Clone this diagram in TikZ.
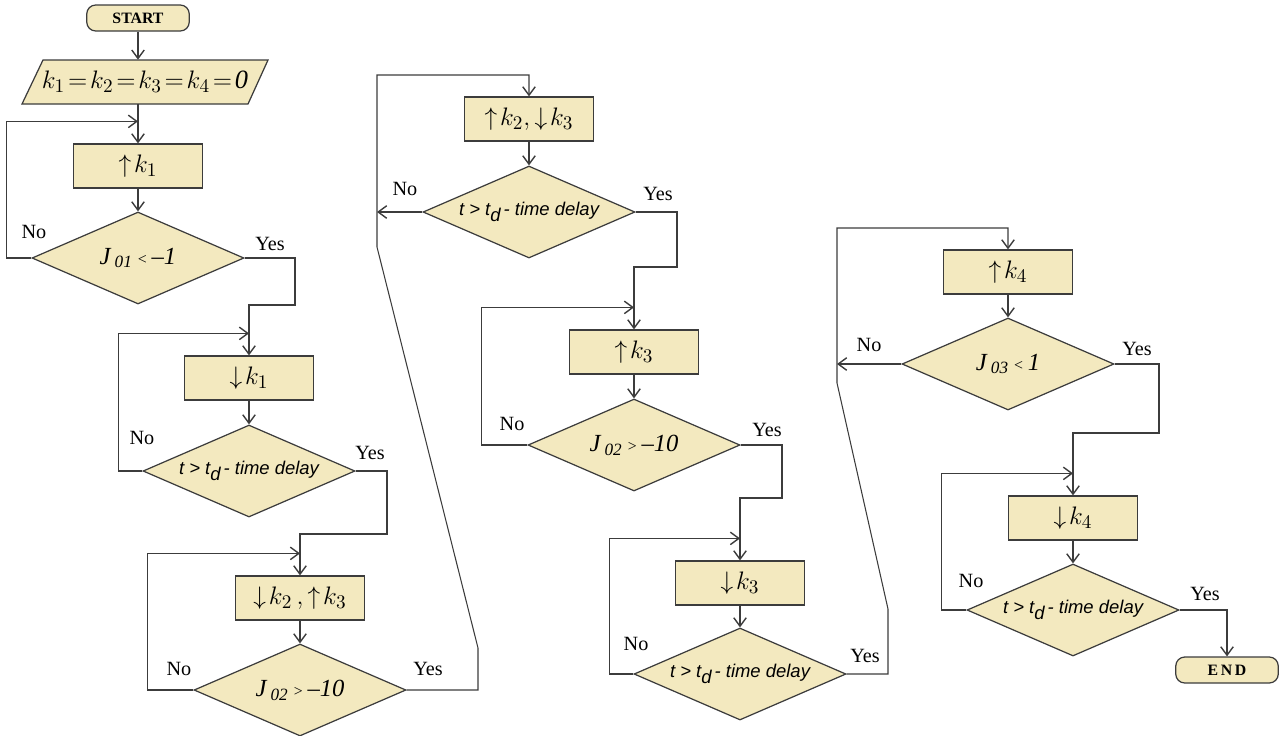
\documentclass[tikz,border=0pt]{standalone}
\usepackage{fontspec}
\setmainfont{Liberation Serif}
\newfontfamily\arialfont{Liberation Sans}
\usetikzlibrary{shapes.geometric,arrows.meta,calc}
\definecolor{boxfill}{RGB}{243,233,191}
\definecolor{linegray}{RGB}{60,60,60}
\newcommand{\tdelay}{{\arialfont\itshape\fontsize{10.5}{12}\selectfont t > t\raisebox{-0.55ex}{\fontsize{10.5}{12}\selectfont d}\,- time delay}}

\begin{document}
\begin{tikzpicture}[x=0.2mm,y=-0.2mm,
  procbox/.style={draw=linegray,fill=boxfill,line width=0.7pt,minimum width=25.8mm,minimum height=8.8mm,inner sep=0pt,font=\fontsize{15}{18}\selectfont},
  cond/.style={diamond,draw=linegray,fill=boxfill,line width=0.7pt,aspect=2.3,minimum width=42.4mm,minimum height=18.4mm,inner sep=0pt},
  term/.style={draw=linegray,fill=boxfill,line width=0.7pt,rounded corners=1.8mm,minimum width=20.5mm,minimum height=5.2mm,inner sep=0pt,font=\bfseries\fontsize{9}{10}\selectfont},
  arr/.style={draw=linegray,line width=0.6pt,-{Straight Barb[length=1.7mm,width=2.5mm,line width=0.8pt]}},
  yn/.style={font=\fontsize{11.5}{13}\selectfont}]
\useasboundingbox (0,0) rectangle (1281,735);

% first column
\node[term] (start) at (138,18) {START};
\draw[draw=linegray,fill=boxfill,line width=0.7pt] (22,104) -- (43,60) -- (268,60) -- (248,104) -- cycle;
\node[minimum height=8.8mm,inner sep=0pt,font=\fontsize{15}{18}\selectfont] (init) at (145,82) {\thickmuskip=2mu$k_1=k_2=k_3=k_4=\mathit{0}$};
\node[procbox] (inck1) at (138,166) {$\uparrow\!k_1$};
\node[cond] (chk1) at (138,258) {\itshape\fontsize{14}{16}\selectfont J\,\textsubscript{01}\,{\fontsize{9}{10}\selectfont<}\,\textendash1};
\node[procbox] (deck1) at (249,378) {$\downarrow\!k_1$};
\node[cond] (chk2) at (249,471) {\tdelay};
\node[procbox] (swapa) at (300,598) {$\downarrow\!k_2\,,\uparrow\!k_3$};
\node[cond] (chk3) at (300,690) {\itshape\fontsize{14}{16}\selectfont J\,\textsubscript{02}\,{\fontsize{9}{10}\selectfont>}\,\textendash10};

% second column
\node[procbox] (swapb) at (529,119) {$\uparrow\!k_2,\downarrow\!k_3$};
\node[cond] (chk4) at (529,212) {\tdelay};
\node[procbox] (inck3) at (634,352) {$\uparrow\!k_3$};
\node[cond] (chk5) at (634,445) {\itshape\fontsize{14}{16}\selectfont J\,\textsubscript{02}\,{\fontsize{9}{10}\selectfont>}\,\textendash10};
\node[procbox] (deck3) at (740,583) {$\downarrow\!k_3$};
\node[cond] (chk6) at (740,674) {\tdelay};

% third column
\node[procbox] (inck4) at (1008,272) {$\uparrow\!k_4$};
\node[cond] (chk7) at (1008,364) {\itshape\fontsize{14}{16}\selectfont J\,\textsubscript{03}\,{\fontsize{9}{10}\selectfont<}\,1};
\node[procbox] (deck4) at (1073,518) {$\downarrow\!k_4$};
\node[cond] (chk8) at (1073,610) {\tdelay};
\node[term] (stop) at (1227,670) {E\kern1.5pt N\kern1.5pt D};

% joins and bends
\foreach \n/\b in {j1/inck1,j2/deck1,j3/swapa,j5/inck3,j6/deck3,j8/deck4}
  \coordinate (\n) at ($(\b.north)+(0,-22)$);
\coordinate (b1) at (295,305);
\coordinate (b2) at (387,534);
\coordinate (b4) at (677,267);
\coordinate (b5) at (782,498);
\coordinate (b7) at (1159,433);
\coordinate (c3a) at (478,648);
\coordinate (c3b) at (377,247);
\coordinate (c3c) at (377,75);
\coordinate (c6a) at (888,609);
\coordinate (c6b) at (837,383);
\coordinate (c6c) at (837,228);

% straight arrows
\draw[arr] (start.south) -- (start.south |- init.north);
\draw[arr] (inck1.north |- init.south) -- (inck1.north);
\draw[arr] (inck1) -- (chk1);
\draw[arr] (deck1) -- (chk2);
\draw[arr] (swapa) -- (chk3);
\draw[arr] (swapb) -- (chk4);
\draw[arr] (inck3) -- (chk5);
\draw[arr] (deck3) -- (chk6);
\draw[arr] (inck4) -- (chk7);
\draw[arr] (deck4) -- (chk8);

% No loops
\draw[arr] (chk1.west) -- ++(-25,0) |- (j1);
\draw[arr] (chk2.west) -- ++(-24,0) |- (j2);
\draw[arr] (chk3.west) -- ++(-46,0) |- (j3);
\draw[arr] (chk5.west) -- ++(-46,0) |- (j5);
\draw[arr] (chk6.west) -- ++(-24,0) |- (j6);
\draw[arr] (chk8.west) -- ++(-25,0) |- (j8);
\draw[arr] (chk4.west) -- (chk4.west -| c3b);
\draw[arr] (chk7.west) -- (chk7.west -| c6b);

% Yes paths
\draw[arr] (chk1.east) -| (b1) -| (deck1.north);
\draw[arr] (chk2.east) -| (b2) -| (swapa.north);
\draw[arr] (chk3.east) -| (c3a) -- (c3b) -- (c3c) -| (swapb.north);
\draw[arr] (chk4.east) -| (b4) -| (inck3.north);
\draw[arr] (chk5.east) -| (b5) -| (deck3.north);
\draw[arr] (chk6.east) -| (c6a) -- (c6b) -- (c6c) -| (inck4.north);
\draw[arr] (chk7.east) -| (b7) -| (deck4.north);
\draw[arr] (chk8.east) -| (stop.north);

% labels
\foreach \x/\y [count=\i] in {34/232,142/438,179/669,405/189,512/424,636/644,869/345,971/581}
  \node[yn] (no\i) at (\x,\y) {No};
\foreach \x/\y [count=\i] in {270/244,370/453,428/669,658/194,767/430,865/656,1137/349,1205/594}
  \node[yn] (yes\i) at (\x,\y) {Yes};
\end{tikzpicture}
\end{document}
